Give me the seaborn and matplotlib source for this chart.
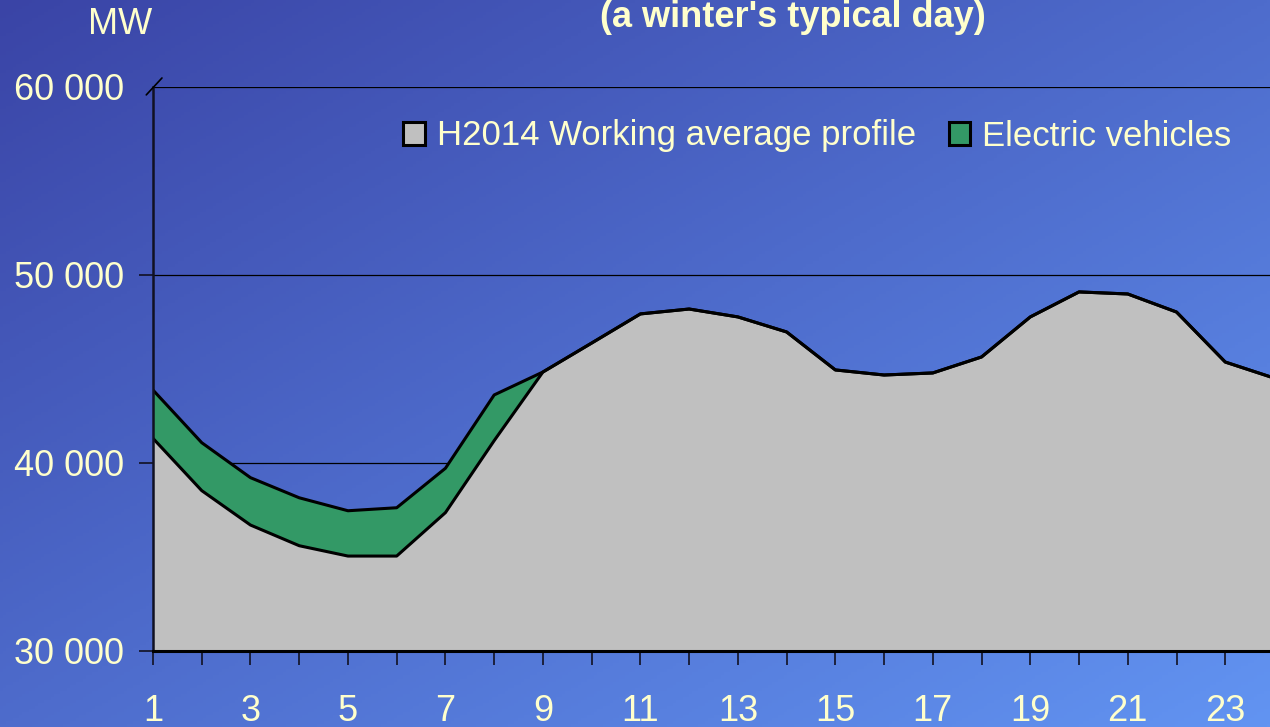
import numpy as np
import pandas as pd
import matplotlib
matplotlib.use("Agg")
import matplotlib.pyplot as plt
from matplotlib.patches import Patch
import seaborn as sns

# ---- data ----
hours = list(range(1, 25))
base_profile = [41310, 38530, 36700, 35600, 35050, 35050, 37360, 41190,
                44840, 46380, 47930, 48190, 47770, 46970, 44950, 44680,
                44790, 45640, 47770, 49100, 48990, 48030, 45370, 44520]
ev_load = [2570, 2550, 2520, 2550, 2410, 2570, 2360, 2430,
           0, 0, 0, 0, 0, 0, 0, 0, 0, 0, 0, 0, 0, 0, 0, 0]
series_names = ["H2014 Working average profile", "Electric vehicles"]
y_ticks = [30000, 40000, 50000, 60000]
y_tick_labels = ["30 000", "40 000", "50 000", "60 000"]
x_tick_labels = [str(h) if h % 2 == 1 else "" for h in hours]
title_text = "(a winter's typical day)"
unit_text = "MW"

df = pd.DataFrame({"hour": hours, "base": base_profile, "ev": ev_load})
df["top"] = df["base"] + df["ev"]

sns.set_theme(style="white")
plt.rcParams["font.family"] = ["Liberation Sans", "DejaVu Sans"]

W, H = 1270, 727
fig = plt.figure(figsize=(W / 100, H / 100), dpi=100)

# gradient background
bg = fig.add_axes([0, 0, 1, 1], zorder=0)
xx, yy = np.meshgrid(np.linspace(0, 1, 400), np.linspace(0, 1, 240))
t = 0.5 * xx + 0.5 * yy
c0 = np.array([0x3A, 0x44, 0xA6]) / 255
c1 = np.array([0x62, 0x94, 0xF2]) / 255
img = c0[None, None, :] * (1 - t[..., None]) + c1[None, None, :] * t[..., None]
bg.imshow(img, aspect="auto", extent=[0, 1, 0, 1], origin="upper")
bg.set_axis_off()

ax = fig.add_axes([153 / W, 1 - 651 / H, 1121 / W, 564 / H], zorder=1)
ax.set_facecolor("none")

GRAY = "#C0C0C0"
GREEN = "#339966"
TXT = "#FFFFCC"

ax.fill_between(df["hour"], y_ticks[0], df["base"], color=GRAY, zorder=2, lw=0)
ax.fill_between(df["hour"], df["base"], df["top"], color=GREEN, zorder=2, lw=0)
sns.lineplot(data=df, x="hour", y="top", color="black", lw=2.2, ax=ax, zorder=3)
sns.lineplot(data=df, x="hour", y="base", color="black", lw=2.2, ax=ax, zorder=3)

ax.set_xlim(hours[0], hours[-1])
ax.set_ylim(y_ticks[0], y_ticks[-1])
ax.set_xticks(hours)
ax.set_xticklabels(x_tick_labels)
ax.set_yticks(y_ticks)
ax.set_yticklabels(y_tick_labels)
ax.set_xlabel("")
ax.set_ylabel("")

ax.grid(axis="y", color="black", lw=0.9, zorder=0)
ax.grid(axis="x", visible=False)
ax.set_axisbelow(True)
for s in ["top", "right"]:
    ax.spines[s].set_visible(False)
ax.spines["left"].set_color("#111122")
ax.spines["left"].set_linewidth(1.8)
ax.spines["bottom"].set_color("black")
ax.spines["bottom"].set_linewidth(2.2)
ax.spines["left"].set_zorder(4)
ax.spines["bottom"].set_zorder(4)

ax.tick_params(axis="y", direction="out", length=10, width=1.2, color="#111122",
               pad=11, labelsize=26, labelcolor=TXT, left=True)
ax.tick_params(axis="x", direction="out", length=10, width=1.2, color="#111122",
               pad=21, labelsize=26, labelcolor=TXT, bottom=True)
ax.yaxis.get_major_ticks()[-1].tick1line.set_visible(False)

# small diagonal mark at top-left corner
ax.plot([-0.006, 0.008], [0.986, 1.016], transform=ax.transAxes,
        color="black", lw=1.2, clip_on=False, zorder=5)

handles = [Patch(facecolor=GRAY, edgecolor="black", lw=2.2),
           Patch(facecolor=GREEN, edgecolor="black", lw=2.2)]
fig.legend(handles, series_names, loc="center left",
           bbox_to_anchor=(403 / W, 1 - 136 / H), bbox_transform=fig.transFigure,
           ncol=2, frameon=False, fontsize=25, labelcolor=TXT,
           handlelength=0.62, handleheight=0.62, handletextpad=0.35,
           columnspacing=0.95, borderpad=0, borderaxespad=0)

fig.text(793 / W, 1 - 27 / H, title_text, ha="center", va="baseline",
         fontsize=26, fontweight="bold", color=TXT)
fig.text(120 / W, 1 - 25 / H, unit_text, ha="center", va="center",
         fontsize=26, color=TXT)

fig.savefig("out.png", dpi=100)
